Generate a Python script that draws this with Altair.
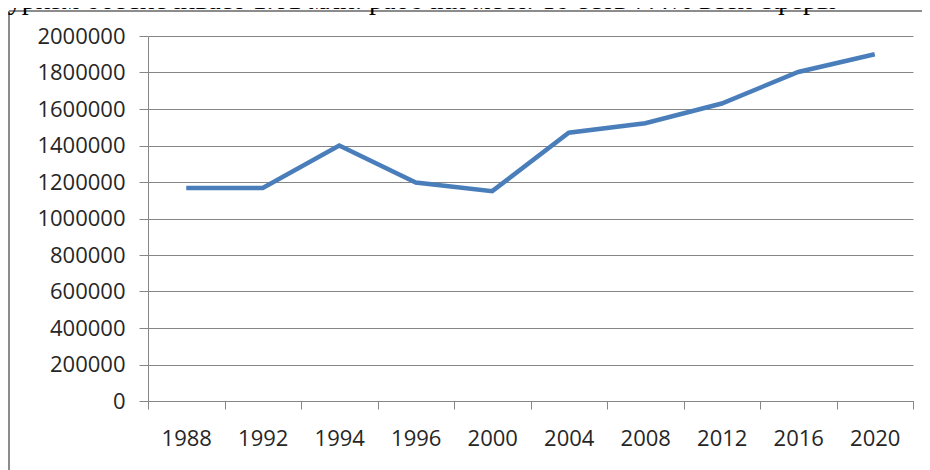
import altair as alt
import pandas as pd

years = ["1988", "1992", "1994", "1996", "2000", "2004", "2008", "2012", "2016", "2020"]
values = [1167000, 1167000, 1400000, 1197000, 1150000, 1470000, 1522000, 1630000, 1803000, 1900000]
y_ticks = [0, 200000, 400000, 600000, 800000, 1000000, 1200000, 1400000, 1600000, 1800000, 2000000]
top_text = "туризм обеспечивает 1.61 млн. рабочих мест. То есть 7.4% всей сферы"

df = pd.DataFrame({"year": years, "value": values})

line = alt.Chart(df).mark_line(color="#4a7ebb", strokeWidth=4.5).encode(
    x=alt.X(
        "year:O",
        bandPosition=0.5,
        sort=years,
        scale=alt.Scale(type="band", paddingInner=0, paddingOuter=0),
        axis=alt.Axis(
            title=None,
            labelAngle=0,
            tickBand="extent",
            tickSize=8,
            labelPadding=19,
            labelFont="Open Sans",
            labelFontSize=22,
            labelColor="#262626",
            domainColor="#868686",
            tickColor="#868686",
            grid=False,
        ),
    ),
    y=alt.Y(
        "value:Q",
        scale=alt.Scale(domain=[0, 2000000], nice=False),
        axis=alt.Axis(
            title=None,
            values=y_ticks,
            format="d",
            tickSize=9,
            labelPadding=14,
            labelFont="Open Sans",
            labelFontSize=22,
            labelColor="#262626",
            domainColor="#868686",
            tickColor="#868686",
            gridColor="#868686",
            gridWidth=1,
        ),
    ),
)

one = pd.DataFrame({"a": [0]})

left_frame = alt.Chart(one).mark_rule(color="#8c8c8c", strokeWidth=2).encode(
    x=alt.value(-139),
    y=alt.value(-25),
    y2=alt.value(440),
)
top_frame = alt.Chart(one).mark_rule(color="#8c8c8c", strokeWidth=2).encode(
    x=alt.value(-139),
    x2=alt.value(790),
    y=alt.value(-25),
)
caption = alt.Chart(one).mark_text(
    align="left", baseline="alphabetic", font="Liberation Serif", fontSize=28, color="black"
).encode(
    x=alt.value(-152),
    y=alt.value(-27),
    text=alt.value(top_text),
)

chart = alt.layer(line, left_frame, top_frame, caption).properties(
    width=765,
    height=365,
    autosize=alt.AutoSizeParams(type="none"),
    padding={"left": 140, "top": 28, "right": 9, "bottom": 69},
).configure_view(stroke=None)

chart.save("out.html", embed_options={"renderer": "svg", "actions": False})
